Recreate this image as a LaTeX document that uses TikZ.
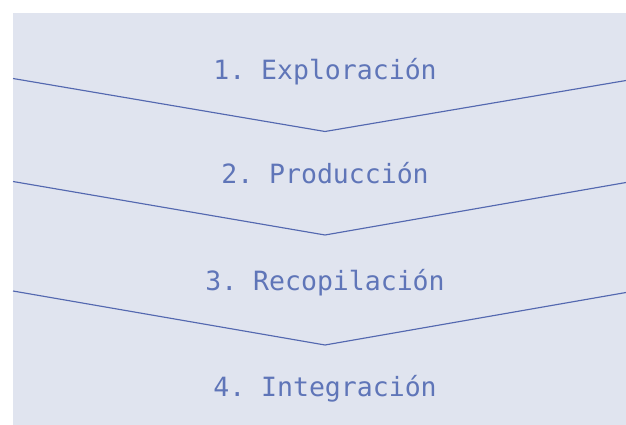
\documentclass[tikz,border=0pt]{standalone}
\usepackage{fontspec}
\setmonofont{DejaVu Sans Mono}
\usepackage{tikz}

\definecolor{panelbg}{HTML}{E0E4EF}
\definecolor{chevronline}{HTML}{5468B0}
\definecolor{phasetext}{HTML}{5F75B8}

\begin{document}
\begin{tikzpicture}[x=1pt,y=-1pt,
    phase/.style={anchor=base,text=phasetext,font=\ttfamily\fontsize{26.5}{30}\selectfont,inner sep=0pt},
    chevron/.style={draw=chevronline,line width=1.15pt}]
    \useasboundingbox (0,0) rectangle (626,425);
    \fill[panelbg] (13,13) rectangle (626,425);
    % phase labels
    \node[phase] (p1) at (325,80) {1. Exploración};
    \node[phase] (p2) at (325,183.5) {2. Producción};
    \node[phase] (p3) at (325,290) {3. Recopilación};
    \node[phase] (p4) at (325,396.5) {4. Integración};
    % chevron separators
    \coordinate (l1) at (13,78.5);
    \coordinate (m1) at (325,131.5);
    \coordinate (r1) at (626,80.5);
    \coordinate (l2) at (13,181.5);
    \coordinate (m2) at (325,235);
    \coordinate (r2) at (626,182.5);
    \coordinate (l3) at (13,291);
    \coordinate (m3) at (325,345);
    \coordinate (r3) at (626,292.5);
    \draw[chevron] (l1) -- (m1) -- (r1);
    \draw[chevron] (l2) -- (m2) -- (r2);
    \draw[chevron] (l3) -- (m3) -- (r3);
\end{tikzpicture}
\end{document}
